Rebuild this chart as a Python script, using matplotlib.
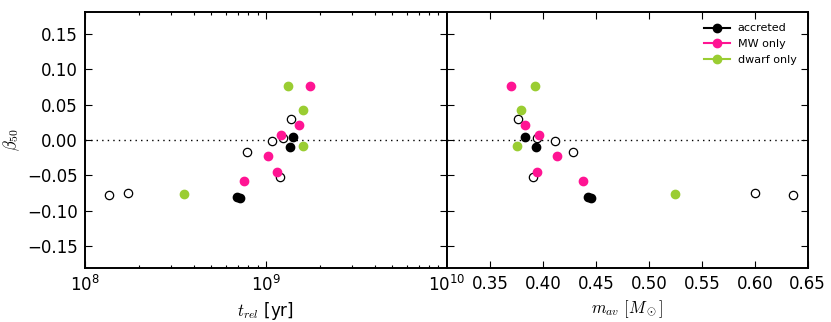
import matplotlib
matplotlib.use("Agg")
import matplotlib.pyplot as plt
import numpy as np

# open circles (all clusters)
all_trel = [1.357e8, 1.729e8, 7.90e8, 1.077e9, 1.25e9, 1.377e9, 1.20e9]
all_mav = [0.6359, 0.5998, 0.4279, 0.4113, 0.3939, 0.3767, 0.3905]
all_beta = [-0.0769, -0.075, -0.0169, -0.001, 0.003, 0.030, -0.052]

acc_trel = [6.9e8, 7.2e8, 1.41e9, 1.355e9]
acc_mav = [0.4427, 0.4449, 0.383, 0.3934]
acc_beta = [-0.080, -0.082, 0.0037, -0.0094]

mw_trel = [1.76e9, 1.53e9, 1.218e9, 1.028e9, 1.148e9, 7.54e8]
mw_mav = [0.3698, 0.3827, 0.3965, 0.4131, 0.3946, 0.4377]
mw_beta = [0.0755, 0.0216, 0.0066, -0.0225, -0.0445, -0.058]

dw_trel = [1.32e9, 1.60e9, 1.60e9, 3.52e8]
dw_mav = [0.3927, 0.3795, 0.3751, 0.5247]
dw_beta = [0.0764, 0.0417, -0.0089, -0.0755]

yticks = [-0.15, -0.10, -0.05, 0.00, 0.05, 0.10, 0.15]
mticks = [0.35, 0.40, 0.45, 0.50, 0.55, 0.60, 0.65]

c_mw = '#FF1493'
c_dw = '#9ACD32'

plt.rcParams['font.family'] = ['DejaVu Sans']
plt.rcParams['mathtext.fontset'] = 'cm'

fig = plt.figure(figsize=(8.31, 3.22), dpi=100)
ax1 = fig.add_axes([0.1023, 0.1686, 0.4352, 0.7932])
ax2 = fig.add_axes([0.5375, 0.1686, 0.4345, 0.7932])

ms = 6
def draw(ax, xa, xacc, xmw, xdw):
    ax.axhline(0, color='k', ls=(0, (1, 3)), lw=1, zorder=1)
    ax.plot(xa, all_beta, 'o', mfc='white', mec='k', mew=0.9, ms=ms, ls='none', zorder=2)
    ax.plot(xacc, acc_beta, 'o', color='k', mec='k', ms=ms, ls='none', zorder=3, label='accreted')
    ax.plot(xmw, mw_beta, 'o', color=c_mw, mec=c_mw, ms=ms, ls='none', zorder=3, label='MW only')
    ax.plot(xdw, dw_beta, 'o', color=c_dw, mec=c_dw, ms=ms, ls='none', zorder=3, label='dwarf only')
    ax.set_ylim(-0.18, 0.18)
    ax.set_yticks(yticks)
    for s in ax.spines.values():
        s.set_linewidth(1.4)
    ax.tick_params(which='both', direction='in', top=True, right=True, labelsize=12)
    ax.tick_params(which='major', length=5, width=0.8, pad=5)
    ax.tick_params(which='minor', length=2.5, width=0.8)

draw(ax1, all_trel, acc_trel, mw_trel, dw_trel)
ax1.set_xscale('log')
ax1.set_xlim(1e8, 1e10)
ax1.set_yticklabels(['%.2f' % v if v >= 0 else '\u2212%.2f' % -v for v in yticks])
ax1.set_xlabel(r'$t_{rel}$ [yr]', fontsize=12)
ax1.set_ylabel(r'$\beta_{50}$', fontsize=12)

draw(ax2, all_mav, acc_mav, mw_mav, dw_mav)
ax2.set_xlim(0.309, 0.65)
ax2.set_xticks(mticks)
ax2.set_xticklabels(['%.2f' % v for v in mticks])
ax2.set_yticklabels([])
ax2.set_xlabel(r'$m_{av}$ $[M_\odot]$', fontsize=12)

from matplotlib.lines import Line2D
handles = [Line2D([], [], color=c, marker='o', ms=ms, mec=c, lw=1.5) for c in ['k', c_mw, c_dw]]
ax2.legend(handles, ['accreted', 'MW only', 'dwarf only'], loc='upper right', frameon=False,
           fontsize=8, numpoints=1, handlelength=2.3, handletextpad=0.7, labelspacing=0.5,
           borderaxespad=0.6)

fig.savefig('out.png', dpi=100)
